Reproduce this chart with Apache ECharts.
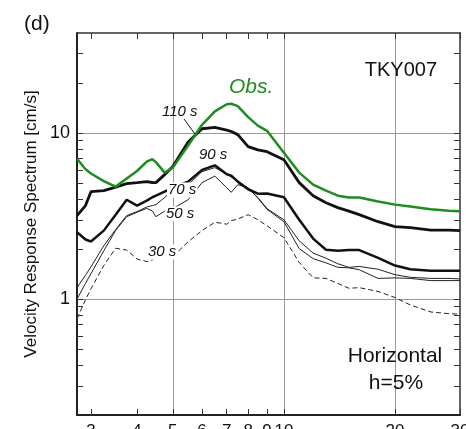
<!DOCTYPE html>
<html>
<head>
<meta charset="utf-8">
<script src="https://cdn.jsdelivr.net/npm/echarts@6/dist/echarts.min.js"></script>
<style>
html, body { margin: 0; padding: 0; background: #fff; }
#main { width: 466px; height: 429px; }
</style>
</head>
<body>
<div id="main"></div>
<script>
// periods [s] shared by all curves
var periods = [2.75, 2.9, 3, 3.25, 3.5, 3.75, 4, 4.25, 4.4, 4.5, 4.75, 5, 5.5, 6, 6.5, 7, 7.2, 7.5, 8, 8.5, 9, 10, 11, 12, 13, 14, 15, 16, 18, 20, 22, 25, 28, 30];
// velocity response [cm/s]
var obs  = [7.0, 6.05, 5.7, 5.13, 4.75, 5.32, 5.9, 6.72, 6.95, 6.67, 5.77, 6.18, 8.39, 11.2, 13.5, 14.9, 15.0, 14.5, 12.45, 11.07, 10.3, 7.61, 5.77, 4.88, 4.49, 4.19, 4.09, 4.08, 3.86, 3.70, 3.60, 3.47, 3.40, 3.37];
var s110 = [3.18, 3.65, 4.43, 4.49, 4.72, 4.95, 5.02, 5.09, 5.03, 5.02, 5.61, 6.27, 8.83, 10.6, 10.8, 10.4, 10.2, 9.77, 8.27, 7.91, 7.71, 6.89, 5.02, 4.19, 3.80, 3.55, 3.38, 3.22, 2.92, 2.73, 2.69, 2.60, 2.60, 2.58];
var s90  = [2.52, 2.28, 2.22, 2.58, 3.22, 3.96, 3.65, 3.91, 4.10, 4.19, 4.43, 4.68, 5.09, 5.99, 6.38, 5.64, 5.53, 5.09, 4.58, 4.31, 4.32, 4.10, 3.0, 2.31, 1.98, 1.95, 1.97, 1.97, 1.77, 1.59, 1.51, 1.48, 1.48, 1.48];
var s70  = [1.17, 1.39, 1.56, 2.09, 2.62, 3.18, 3.36, 3.58, 3.65, 3.70, 4.08, 4.49, 4.88, 5.85, 6.18, 5.65, 5.42, 5.16, 4.62, 4.09, 3.50, 3.00, 2.24, 1.89, 1.76, 1.63, 1.55, 1.57, 1.51, 1.40, 1.35, 1.33, 1.33, 1.32];
var s50  = [1.0, 1.24, 1.42, 1.95, 2.59, 3.13, 3.33, 3.51, 3.39, 3.13, 3.38, 3.5, 3.96, 5.02, 5.50, 4.68, 4.39, 4.88, 4.68, 4.05, 3.47, 2.92, 2.01, 1.75, 1.65, 1.55, 1.54, 1.50, 1.33, 1.34, 1.33, 1.29, 1.29, 1.29];
var s30  = [0.76, 0.99, 1.15, 1.59, 2.02, 1.97, 1.74, 1.68, 1.72, 1.80, 1.87, 1.80, 2.21, 2.58, 2.90, 2.82, 2.96, 3.03, 3.22, 3.00, 2.76, 2.34, 1.66, 1.34, 1.33, 1.24, 1.16, 1.17, 1.11, 1.02, 0.92, 0.835, 0.815, 0.81];

var xTicks = [3, 4, 5, 6, 7, 8, 9, 10, 20, 30];
var xGridLines = [5, 10, 20];
var yTicks = [0.3, 0.4, 0.5, 0.6, 0.7, 0.8, 0.9, 1, 2, 3, 4, 5, 6, 7, 8, 9, 10, 20, 30];
var yLabels = [1, 10];
var yGridLines = [1, 10];

function pairs(vals) {
  return periods.map(function (p, i) { return [p, vals[i]]; });
}

var FONT = '"Liberation Sans", Arial, sans-serif';
var xMin = 2.75, xMax = 30, yMin = 0.2, yMax = 40;

function xAx(pos, tickVals, opts) {
  return Object.assign({
    type: 'log', logBase: 10, min: xMin, max: xMax, position: pos,
    axisLine: { show: true, onZero: false, lineStyle: { color: '#333', width: 1.5 } },
    axisTick: { show: true, inside: true, length: 6, customValues: tickVals, lineStyle: { color: '#333', width: 1 } },
    axisLabel: { show: false },
    splitLine: { show: false },
    minorTick: { show: false }, minorSplitLine: { show: false }
  }, opts || {});
}
function yAx(pos, tickVals, opts) {
  return Object.assign({
    type: 'log', logBase: 10, min: yMin, max: yMax, position: pos,
    axisLine: { show: true, onZero: false, lineStyle: { color: '#333', width: 1.5 } },
    axisTick: { show: true, inside: true, length: 6, customValues: tickVals, lineStyle: { color: '#333', width: 1 } },
    axisLabel: { show: false },
    splitLine: { show: false },
    minorTick: { show: false }, minorSplitLine: { show: false }
  }, opts || {});
}

var chart = echarts.init(document.getElementById('main'));

var option = {
  animation: false,
  backgroundColor: '#fff',
  grid: { left: 77, right: 6, top: 33, bottom: 14, show: false, containLabel: false, outerBoundsMode: 'none' },
  xAxis: [
    xAx('bottom', xTicks, {
      axisLine: { show: true, onZero: false, lineStyle: { color: '#222', width: 2 } },
      axisLabel: { show: true, customValues: xTicks, margin: 8, color: '#111', fontSize: 17, fontFamily: FONT }
    }),
    xAx('top', xTicks),
    xAx('bottom', xGridLines, {
      axisLine: { show: false },
      axisTick: { show: false, customValues: xGridLines },
      splitLine: { show: true, lineStyle: { color: '#999', width: 1 } }
    })
  ],
  yAxis: [
    yAx('left', yTicks, {
      axisLine: { show: true, onZero: false, lineStyle: { color: '#222', width: 2 } },
      axisLabel: { show: true, customValues: yLabels, margin: 7, color: '#111', fontSize: 18, fontFamily: FONT }
    }),
    yAx('right', yTicks),
    yAx('left', yGridLines, {
      axisLine: { show: false },
      axisTick: { show: false, customValues: yGridLines },
      splitLine: { show: true, lineStyle: { color: '#999', width: 1 } }
    })
  ],
  series: [
    { name: '30 s', type: 'line', data: pairs(s30), symbol: 'none', silent: true, z: 3,
      lineStyle: { color: '#222', width: 1, type: [5, 3] } },
    { name: '50 s', type: 'line', data: pairs(s50), symbol: 'none', silent: true, z: 3,
      lineStyle: { color: '#222', width: 1 } },
    { name: '70 s', type: 'line', data: pairs(s70), symbol: 'none', silent: true, z: 3,
      lineStyle: { color: '#222', width: 1 } },
    { name: '90 s', type: 'line', data: pairs(s90), symbol: 'none', silent: true, z: 4,
      lineStyle: { color: '#111', width: 2.5 } },
    { name: '110 s', type: 'line', data: pairs(s110), symbol: 'none', silent: true, z: 4,
      lineStyle: { color: '#111', width: 2.8 } },
    { name: 'Obs.', type: 'line', data: pairs(obs), symbol: 'none', silent: true, z: 5,
      lineStyle: { color: '#1e8c1e', width: 2.5 } }
  ],
  graphic: [
    { type: 'text', x: 24, y: 24, z: 100, style: { text: '(d)', font: '21px ' + FONT, fill: '#111', verticalAlign: 'middle' } },
    { type: 'text', x: 31, y: 224, rotation: Math.PI / 2, z: 100,
      style: { text: 'Velocity Response Spectrum [cm/s]', font: '17px ' + FONT, fill: '#111', align: 'center', verticalAlign: 'middle' } },
    { type: 'text', x: 437, y: 70, z: 100, style: { text: 'TKY007', font: '20px ' + FONT, fill: '#111', align: 'right', verticalAlign: 'middle' } },
    { type: 'text', x: 229, y: 87, z: 100, style: { text: 'Obs.', font: 'italic 21px ' + FONT, fill: '#1e8c1e', verticalAlign: 'middle' } },
    { type: 'line', z: 100, shape: { x1: 184, y1: 119, x2: 195, y2: 134 }, style: { stroke: '#111', lineWidth: 1 } },
    { type: 'text', x: 162, y: 112, z: 100, style: { text: '110 s', font: 'italic 15px ' + FONT, fill: '#111', verticalAlign: 'middle' } },
    { type: 'text', x: 199, y: 155, z: 100, style: { text: '90 s', font: 'italic 15px ' + FONT, fill: '#111', verticalAlign: 'middle' } },
    { type: 'text', x: 167, y: 190, z: 100, style: { text: '70 s', font: 'italic 15px ' + FONT, fill: '#111', verticalAlign: 'middle', backgroundColor: '#fff', padding: [0, 1] } },
    { type: 'text', x: 165, y: 214, z: 100, style: { text: '50 s', font: 'italic 15px ' + FONT, fill: '#111', verticalAlign: 'middle', backgroundColor: '#fff', padding: [0, 1] } },
    { type: 'text', x: 147, y: 252, z: 100, style: { text: '30 s', font: 'italic 15px ' + FONT, fill: '#111', verticalAlign: 'middle', backgroundColor: '#fff', padding: [0, 1] } },
    { type: 'text', x: 395, y: 356, z: 100, style: { text: 'Horizontal', font: '21px ' + FONT, fill: '#111', align: 'center', verticalAlign: 'middle' } },
    { type: 'text', x: 396, y: 383, z: 100, style: { text: 'h=5%', font: '21px ' + FONT, fill: '#111', align: 'center', verticalAlign: 'middle' } }
  ]
};

chart.setOption(option);
</script>
</body>
</html>
